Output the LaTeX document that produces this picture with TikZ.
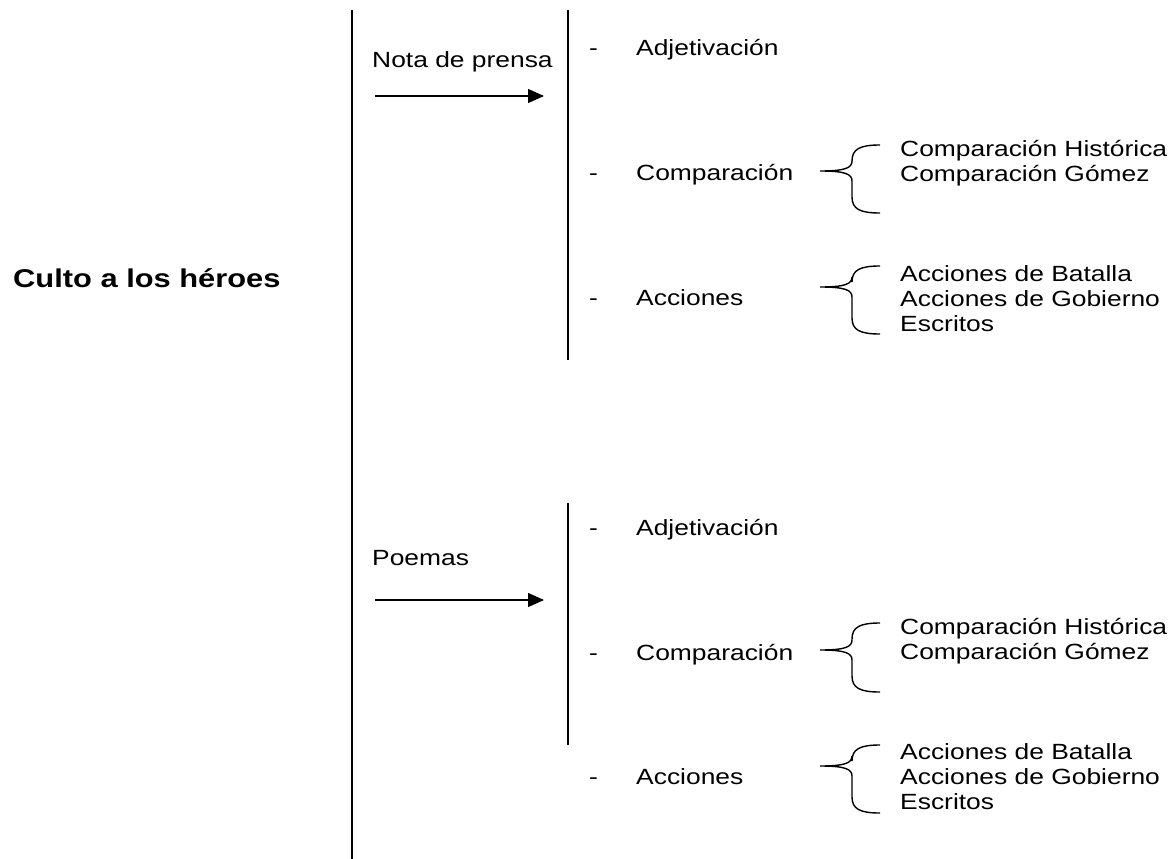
\documentclass[tikz,border=0pt]{standalone}
\usepackage{fontspec}
\setmainfont[FakeStretch=1.2]{Liberation Sans}
\usetikzlibrary{arrows.meta}
\tikzset{
  lbl/.style={anchor=base west, inner sep=0pt, font=\fontsize{22}{25}\selectfont},
  rule/.style={line width=1.8pt},
  arr/.style={line width=1.4pt, -{Triangle[length=16pt,width=14pt]}},
  brc/.style={line width=1.4pt},
}
\newcommand{\mybrace}[4]{% name, top, tip, bottom
  \draw[brc] (880,#2) .. controls (860,#2) and (852,#2+4) .. (852,#2+16)
    -- (852,#3-10) .. controls (852,#3-3) and (845,#3) .. (820,#3)
    .. controls (845,#3) and (852,#3+3) .. (852,#3+10)
    -- (852,#4-16) .. controls (852,#4-4) and (860,#4) .. (880,#4);
  \coordinate (#1) at (820,#3);
}
\begin{document}
\begin{tikzpicture}[x=1pt,y=-1pt]
\useasboundingbox (0,0) rectangle (1175,859);
% main rule
\coordinate (m1) at (352,10); \coordinate (m2) at (352,859);
\draw[rule] (m1) -- (m2);
\node[anchor=base west, inner sep=0pt, font=\fontsize{25.7}{30}\selectfont\bfseries] (culto) at (13,287) {Culto a los héroes};
% upper block
\coordinate (u1) at (568,10); \coordinate (u2) at (568,360);
\draw[rule] (u1) -- (u2);
\node[lbl] (nota) at (372,67) {Nota de prensa};
\coordinate (a1s) at (375,96); \coordinate (a1e) at (544,96);
\draw[arr] (a1s) -- (a1e);
\node[lbl] (ud1) at (589,56) {-};
\node[lbl] (ua1) at (636,56) {Adjetivación};
\node[lbl] (ud2) at (589,180) {-};
\node[lbl] (ua2) at (636,180) {Comparación};
\node[lbl] (ud3) at (589,305) {-};
\node[lbl] (ua3) at (636,305) {Acciones};
\mybrace{ub1}{145}{171}{213}
\node[lbl] (us1a) at (900,156) {Comparación Histórica};
\node[lbl] (us1b) at (900,181) {Comparación Gómez};
\mybrace{ub2}{266}{287}{334}
\node[lbl] (us2a) at (900,281) {Acciones de Batalla};
\node[lbl] (us2b) at (900,306) {Acciones de Gobierno};
\node[lbl] (us2c) at (900,331) {Escritos};
% lower block
\coordinate (l1) at (568,503); \coordinate (l2) at (568,745);
\draw[rule] (l1) -- (l2);
\node[lbl] (poe) at (372,565) {Poemas};
\coordinate (a2s) at (375,600); \coordinate (a2e) at (544,600);
\draw[arr] (a2s) -- (a2e);
\node[lbl] (ld1) at (589,535) {-};
\node[lbl] (la1) at (636,535) {Adjetivación};
\node[lbl] (ld2) at (589,660) {-};
\node[lbl] (la2) at (636,660) {Comparación};
\node[lbl] (ld3) at (589,784) {-};
\node[lbl] (la3) at (636,784) {Acciones};
\mybrace{lb1}{623}{650}{692}
\node[lbl] (ls1a) at (900,634) {Comparación Histórica};
\node[lbl] (ls1b) at (900,659) {Comparación Gómez};
\mybrace{lb2}{745}{766}{813}
\node[lbl] (ls2a) at (900,759) {Acciones de Batalla};
\node[lbl] (ls2b) at (900,784) {Acciones de Gobierno};
\node[lbl] (ls2c) at (900,809) {Escritos};
\end{tikzpicture}
\end{document}
